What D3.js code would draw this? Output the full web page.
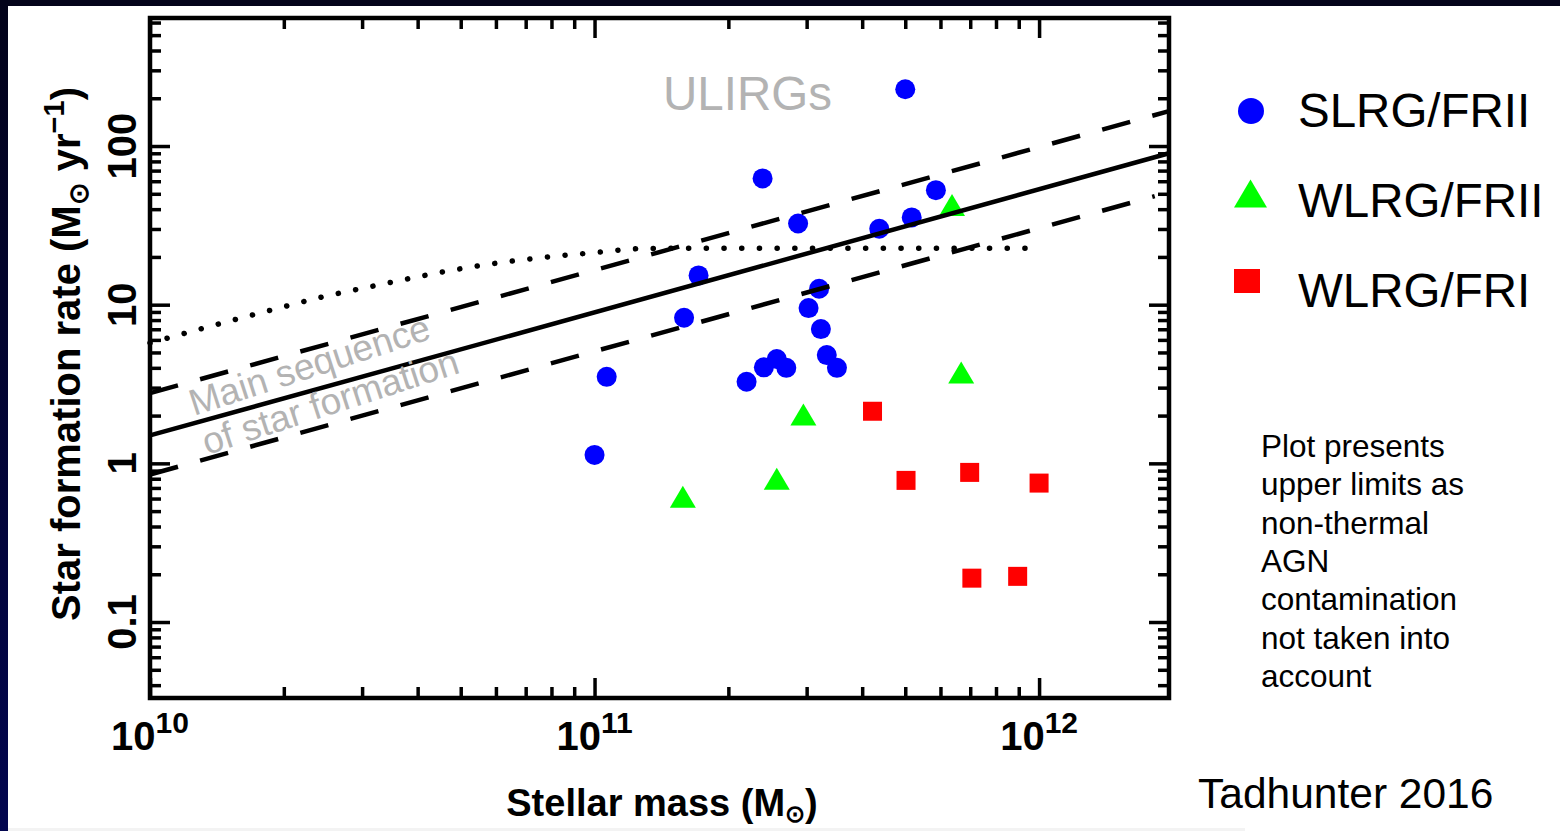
<!DOCTYPE html>
<html>
<head>
<meta charset="utf-8">
<script src="https://cdn.jsdelivr.net/npm/d3@7.9.0/dist/d3.min.js"></script>
<style>
  html, body { margin: 0; padding: 0; background: #fff; }
  svg { display: block; }
  .ax { font-family: "Liberation Sans", Arial, Helvetica, sans-serif; font-weight: bold; fill: #000; }
  .txt { font-family: "Liberation Sans", Arial, Helvetica, sans-serif; fill: #000; }
  .tick line { stroke: #000; stroke-width: 3.5; }
</style>
</head>
<body>
<svg id="chart" width="1560" height="831"></svg>
<script>
// SLRG/FRII (blue circles)
const slrgMass = [1.0e11, 1.065e11, 1.59e11, 1.714e11, 2.198e11, 2.388e11, 2.404e11, 2.57e11, 2.70e11, 2.87e11,
                  3.03e11, 3.20e11, 3.23e11, 3.33e11, 3.51e11, 4.37e11, 5.00e11, 5.17e11, 5.86e11];
const slrgSFR  = [1.13, 3.51, 8.27, 15.3, 3.27, 62.5, 4.03, 4.54, 4.0, 32.5,
                  9.52, 12.6, 7.02, 4.81, 4.0, 30.1, 228, 35.5, 52.7];

// WLRG/FRII (green triangles)
const wlrg2Mass = [1.58e11, 2.57e11, 2.95e11, 6.37e11, 6.68e11];
const wlrg2SFR  = [0.606, 0.788, 2.0, 41.8, 3.68];

// WLRG/FRI (red squares)
const wlrg1Mass = [4.22e11, 5.02e11, 6.98e11, 1.0e12, 7.06e11, 8.95e11];
const wlrg1SFR  = [2.13, 0.781, 0.877, 0.751, 0.189, 0.194];

// main sequence (solid) and its scatter (dashed)
const msMass      = [1e10, 1.96e12];
const msSFR       = [1.50, 90];
const msUpperMass = [1e10, 1.96e12];
const msUpperSFR  = [2.77, 166];
const msLowerMass = [1e10, 1.82e12];
const msLowerSFR  = [0.851, 48.3];

// dotted curve
const dotMass = [1e10, 1.443e10, 1.89e10, 2.48e10, 3.26e10, 4.2e10, 5.64e10, 7.62e10, 1.02e11, 1.3e11, 1.86e11, 9.55e11];
const dotSFR  = [5.73, 7.62, 9.31, 11.3, 13.3, 15.4, 17.8, 19.8, 21.4, 22.6, 22.7, 22.7];

const xMajor = [1e10, 1e11, 1e12];
const xMajorExp = ['10', '11', '12'];
const yMajor = [0.1, 1, 10, 100];
const yMajorLabels = ['0.1', '1', '10', '100'];

const legendLabels = ['SLRG/FRII', 'WLRG/FRII', 'WLRG/FRI'];
const noteLines = ['Plot presents', 'upper limits as', 'non-thermal', 'AGN', 'contamination', 'not taken into', 'account'];

const svg = d3.select('#chart');
const W = 1560, H = 831;
const frame = { left: 150, right: 1169, top: 18, bottom: 698 };

// slide background border
const grad = svg.append('defs').append('linearGradient')
  .attr('id', 'edge').attr('x1', 0).attr('y1', 0).attr('x2', 0).attr('y2', 1);
grad.append('stop').attr('offset', '0%').attr('stop-color', '#03031a');
grad.append('stop').attr('offset', '100%').attr('stop-color', '#03064f');
svg.append('rect').attr('width', W).attr('height', H).attr('fill', '#fff');
svg.append('rect').attr('x', 8).attr('y', 828).attr('width', 1237).attr('height', 3).attr('fill', '#f3f3f3');
svg.append('rect').attr('width', W).attr('height', 6).attr('fill', '#04041a');
svg.append('rect').attr('width', 8).attr('height', H).attr('fill', 'url(#edge)');

const x = d3.scaleLog().domain([1e10, 1.96e12]).range([frame.left, frame.right]);
const y = d3.scaleLog().domain([0.0332, 641]).range([frame.bottom, frame.top]);

function minorTicks(scale) {
  const [a, b] = scale.domain();
  const out = [];
  for (let e = Math.floor(Math.log10(a)); e <= Math.ceil(Math.log10(b)); e++) {
    for (let m = 2; m <= 9; m++) {
      const v = m * Math.pow(10, e);
      if (v > a && v < b) out.push(v);
    }
  }
  return out;
}
const xMinor = minorTicks(x);
const yMinor = minorTicks(y);

function addAxis(gen, tx, ty, values, size) {
  const g = svg.append('g').attr('transform', `translate(${tx},${ty})`)
    .call(gen.tickValues(values).tickSize(-size).tickFormat(''));
  g.select('.domain').remove();
}
[[xMajor, 20], [xMinor, 11]].forEach(([v, s]) => {
  addAxis(d3.axisBottom(x), 0, frame.bottom, v, s);
  addAxis(d3.axisTop(x), 0, frame.top, v, s);
});
[[yMajor, 20], [yMinor, 11]].forEach(([v, s]) => {
  addAxis(d3.axisLeft(y), frame.left, 0, v, s);
  addAxis(d3.axisRight(y), frame.right, 0, v, s);
});

// markers
const plot = svg.append('g');
plot.selectAll('circle.slrg').data(d3.zip(slrgMass, slrgSFR)).join('circle')
  .attr('cx', d => x(d[0])).attr('cy', d => y(d[1])).attr('r', 10).attr('fill', '#0000ff');

function triPath(cx, cy, w, h) {
  return `M${cx},${cy - h * 0.55}L${cx + w / 2},${cy + h * 0.45}L${cx - w / 2},${cy + h * 0.45}Z`;
}
plot.selectAll('path.wlrg2').data(d3.zip(wlrg2Mass, wlrg2SFR)).join('path')
  .attr('d', d => triPath(x(d[0]), y(d[1]), 26, 22)).attr('fill', '#00ff00');

plot.selectAll('rect.wlrg1').data(d3.zip(wlrg1Mass, wlrg1SFR)).join('rect')
  .attr('x', d => x(d[0]) - 9.5).attr('y', d => y(d[1]) - 9.5)
  .attr('width', 19).attr('height', 19).attr('fill', '#ff0000');

// lines
const line = d3.line().x(d => x(d[0])).y(d => y(d[1]));
const lines = svg.append('g').attr('fill', 'none').attr('stroke', '#000');
lines.append('path').datum(d3.zip(dotMass, dotSFR)).attr('d', line.curve(d3.curveMonotoneX))
  .attr('stroke-width', 5.5).attr('stroke-linecap', 'round').attr('stroke-dasharray', '0.1,17.6');
line.curve(d3.curveLinear);
lines.append('path').datum(d3.zip(msUpperMass, msUpperSFR)).attr('d', line)
  .attr('stroke-width', 4.5).attr('stroke-dasharray', '29,23');
lines.append('path').datum(d3.zip(msLowerMass, msLowerSFR)).attr('d', line)
  .attr('stroke-width', 4.5).attr('stroke-dasharray', '29,23');
lines.append('path').datum(d3.zip(msMass, msSFR)).attr('d', line).attr('stroke-width', 4.5);

// frame
svg.append('rect').attr('x', frame.left).attr('y', frame.top)
  .attr('width', frame.right - frame.left).attr('height', frame.bottom - frame.top)
  .attr('fill', 'none').attr('stroke', '#000').attr('stroke-width', 4.5);

// gray annotations
const grey = '#b3b3b3';
svg.append('text').attr('class', 'txt').attr('x', 663).attr('y', 110)
  .attr('font-size', 47.5).style('fill', grey).text('ULIRGs');
svg.append('text').attr('class', 'txt').attr('font-size', 37).style('fill', grey)
  .attr('transform', 'translate(194,416) rotate(-18)').text('Main sequence');
svg.append('text').attr('class', 'txt').attr('font-size', 37).style('fill', grey)
  .attr('transform', 'translate(207,455) rotate(-18)').text('of star formation');

// tick labels
xMajor.forEach((v, i) => {
  const t = svg.append('text').attr('class', 'ax').attr('x', x(v)).attr('y', 750)
    .attr('text-anchor', 'middle').attr('font-size', 40);
  t.append('tspan').text('10');
  t.append('tspan').attr('dy', -17).attr('font-size', 30).text(xMajorExp[i]);
});
yMajor.forEach((v, i) => {
  svg.append('text').attr('class', 'ax').attr('font-size', 40).attr('text-anchor', 'middle')
    .attr('transform', `translate(136,${y(v)}) rotate(-90)`).text(yMajorLabels[i]);
});

// axis titles
const xt = svg.append('text').attr('class', 'ax').attr('x', 662).attr('y', 816)
  .attr('text-anchor', 'middle').attr('font-size', 38);
xt.append('tspan').text('Stellar mass (M');
xt.append('tspan').attr('dy', 6).attr('font-size', 24).text('⊙');
xt.append('tspan').attr('dy', -6).text(')');

const yt = svg.append('text').attr('class', 'ax').attr('text-anchor', 'middle').attr('font-size', 40)
  .attr('transform', `translate(80,354) rotate(-90)`);
yt.append('tspan').text('Star formation rate (M');
yt.append('tspan').attr('dy', 8).attr('font-size', 27).text('⊙');
yt.append('tspan').attr('dy', -8).text(' yr');
yt.append('tspan').attr('dy', -16).attr('font-size', 29).text('−1');
yt.append('tspan').attr('dy', 16).text(')');

// legend
const leg = svg.append('g');
leg.append('circle').attr('cx', 1251).attr('cy', 111).attr('r', 13).attr('fill', '#0000ff');
leg.append('path').attr('d', triPath(1250.5, 195, 33, 28)).attr('fill', '#00ff00');
leg.append('rect').attr('x', 1234).attr('y', 269).attr('width', 26).attr('height', 24).attr('fill', '#ff0000');
legendLabels.forEach((s, i) => {
  leg.append('text').attr('class', 'txt').attr('x', 1298).attr('y', 127 + i * 90)
    .attr('font-size', 47.5).text(s);
});

// note
const note = svg.append('text').attr('class', 'txt').attr('font-size', 31.5);
noteLines.forEach((s, i) => {
  note.append('tspan').attr('x', 1261).attr('y', 457 + i * 38.3).text(s);
});

svg.append('text').attr('class', 'txt').attr('x', 1198).attr('y', 808)
  .attr('font-size', 42.5).text('Tadhunter 2016');
</script>
</body>
</html>
